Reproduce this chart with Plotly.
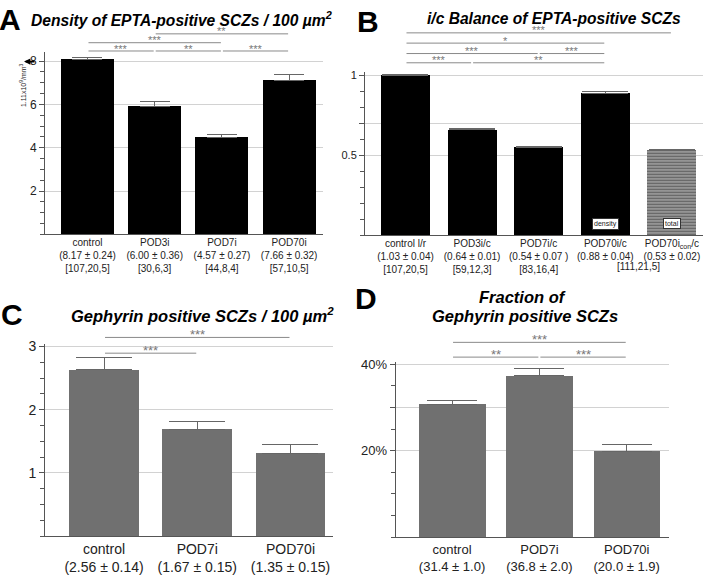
import plotly.graph_objects as go

W, H = 706, 575
FONT = "Liberation Sans, Arial, sans-serif"

# ---------------- data ----------------
A_cats = ["control", "POD3i", "POD7i", "POD70i"]
A_stats = ["(8.17 ± 0.24)", "(6.00 ± 0.36)", "(4.57 ± 0.27)", "(7.66 ± 0.32)"]
A_n = ["[107,20,5]", "[30,6,3]", "[44,8,4]", "[57,10,5]"]
A_vals = [8.08, 5.92, 4.49, 7.10]
A_err = [0.09, 0.22, 0.13, 0.30]
A_sig = [(0, 1, "***"), (1, 2, "**"), (2, 3, "***"), (0, 2, "***"), (1, 3, "**")]

B_cats = ["control l/r", "POD3i/c", "POD7i/c", "POD70i/c", "POD70i<sub>con</sub>/c"]
B_stats = ["(1.03 ± 0.04)", "(0.64 ± 0.01)", "(0.54 ± 0.07 )", "(0.88 ± 0.04)", "(0.53 ± 0.02)"]
B_n = ["[107,20,5]", "[59,12,3]", "[83,16,4]", "", ""]
B_n_shared = "[111,21,5]"
B_vals = [1.0, 0.659, 0.548, 0.891, 0.529]
B_err = [0.006, 0.008, 0.010, 0.008, 0.006]
B_inbar = ["", "", "", "density", "total"]
B_sig = [(0, 1, "***"), (1, 3, "**"), (0, 2, "***"), (2, 3, "***"), (0, 3, "*"), (0, 4, "***")]

C_cats = ["control", "POD7i", "POD70i"]
C_stats = ["(2.56 ± 0.14)", "(1.67 ± 0.15)", "(1.35 ± 0.15)"]
C_vals = [2.63, 1.69, 1.31]
C_err = [0.19, 0.12, 0.14]
C_sig = [(0, 1, "***"), (0, 2, "***")]

D_cats = ["control", "POD7i", "POD70i"]
D_stats = ["(31.4 ± 1.0)", "(36.8 ± 2.0)", "(20.0 ± 1.9)"]
D_vals = [30.7, 37.3, 19.8]
D_err = [0.8, 1.6, 1.7]
D_sig = [(0, 1, "**"), (1, 2, "***"), (0, 2, "***")]

# ---------------- layout geometry (pixels) ----------------
P = {
    "A": dict(ax="", xpx=(45, 323), xr=(-0.632, 3.504), ypx=(232, 47.2), yr=(0, 8.4)),
    "B": dict(ax="2", xpx=(365, 703), xr=(-0.608, 4.467), ypx=(232.7, 67.5), yr=(0, 1.02)),
    "C": dict(ax="3", xpx=(45, 333), xr=(-0.633, 2.456), ypx=(538.7, 343.3), yr=(0, 3.04)),
    "D": dict(ax="4", xpx=(395.7, 669), xr=(-0.645, 2.484), ypx=(539.5, 361.7), yr=(0, 40.5)),
}


def x2px(p, x):
    g = P[p]
    return g["xpx"][0] + (x - g["xr"][0]) / (g["xr"][1] - g["xr"][0]) * (g["xpx"][1] - g["xpx"][0])


def fx(px):
    return px / W


def fy(py):
    return 1 - py / H


fig = go.Figure()

AX = "#555555"
GRID = "#d2d2d2"
ERRC = "#666666"


def add_bars(p, vals, errs, colors, width, capw, pattern=None):
    g = P[p]
    marker = dict(color=colors, line=dict(width=0))
    if pattern is not None:
        marker["pattern"] = pattern
    fig.add_trace(go.Bar(
        x=list(range(len(vals))), y=vals, width=width,
        marker=marker,
        error_y=dict(type="data", array=errs, arrayminus=[0] * len(errs), symmetric=False,
                     color=ERRC, thickness=1, width=capw),
        xaxis="x" + g["ax"], yaxis="y" + g["ax"], showlegend=False, hoverinfo="skip",
    ))


add_bars("A", A_vals, A_err, "#000000", 0.79, 15)
add_bars("B", B_vals, B_err, ["#000000"] * 4 + ["#6a6a6a"], 0.735, 23,
         pattern=dict(shape=[""] * 4 + ["-"], fgcolor="#9c9c9c",
                      size=3, solidity=0.35, fillmode="overlay"))
add_bars("C", C_vals, C_err, "#707070", 0.75, 28)
add_bars("D", D_vals, D_err, "#707070", 0.762, 25)


def axes(p, ticktext, yt, ytt, minor_dt, xfs, yfs, standoff=0):
    g = P[p]
    xd = [fx(g["xpx"][0]), fx(g["xpx"][1])]
    yd = [fy(g["ypx"][0]), fy(g["ypx"][1])]
    xa = dict(domain=xd, range=list(g["xr"]), anchor="y" + g["ax"], showline=True, linecolor=AX,
              linewidth=1, ticks="", tickvals=list(range(len(ticktext))), ticktext=ticktext,
              tickfont=dict(family=FONT, size=xfs, color="#222"), showgrid=False, zeroline=False,
              fixedrange=True, ticklabelstandoff=standoff)
    ya = dict(domain=yd, range=list(g["yr"]), anchor="x" + g["ax"], showline=True, linecolor=AX,
              linewidth=1, ticks="outside", ticklen=5, tickcolor=AX, tickvals=yt, ticktext=ytt,
              tickfont=dict(family=FONT, size=yfs, color="#222"), showgrid=True, gridcolor=GRID,
              gridwidth=1, zeroline=False, fixedrange=True,
              minor=dict(ticks="outside", ticklen=4, tickcolor=AX, dtick=minor_dt, tick0=0, showgrid=False))
    fig.update_layout(**{"xaxis" + g["ax"]: xa, "yaxis" + g["ax"]: ya})


axes("A", [f"{a}<br>{b}<br>{c}" for a, b, c in zip(A_cats, A_stats, A_n)],
     [2, 4, 6, 8], ["2", "4", "6", "8"], 0.5, 10, 12, standoff=-1)
axes("B", [f"{a}<br>{b}<br>{c}" if c else f"{a}<br>{b}" for a, b, c in zip(B_cats, B_stats, B_n)],
     [0.5, 0.7, 1], ["0.5", "", "1"], 0.1, 10, 11, standoff=-1)
axes("C", [f"{a}<br>{b}" for a, b in zip(C_cats, C_stats)],
     [1, 2, 3], ["1", "2", "3"], 0.25, 14, 14)
axes("D", [f"{a}<br>{b}" for a, b in zip(D_cats, D_stats)],
     [20, 30, 40], ["20%", "", "40%"], 5, 13, 13)

shapes = []
annots = []


def brackets(p, sig, rows, fs):
    for (i, j, s), ry in zip(sig, rows):
        x0 = x2px(p, i) + 1
        x1 = x2px(p, j) - 1
        shapes.append(dict(type="line", xref="paper", yref="paper", x0=fx(x0), x1=fx(x1),
                           y0=fy(ry), y1=fy(ry), line=dict(color="#8a8a8a", width=1)))
        annots.append(dict(xref="paper", yref="paper", x=fx((x0 + x1) / 2), y=fy(ry - 2.5),
                           text=s, showarrow=False, xanchor="center", yanchor="middle",
                           font=dict(family=FONT, size=fs, color="#777")))


brackets("A", A_sig, [45.7, 45.7, 45.7, 37.3, 28.3], 11)
brackets("B", B_sig, [57.7, 57.7, 48.3, 48.3, 37.7, 27.3], 11)
brackets("C", C_sig, [352.7, 336.7], 13)
brackets("D", D_sig, [356.7, 356.7, 341.7], 13)


def txt(x, y, s, size, bold=True, italic=True, **kw):
    t = s
    if italic:
        t = "<i>" + t + "</i>"
    if bold:
        t = "<b>" + t + "</b>"
    d = dict(xref="paper", yref="paper", x=fx(x), y=fy(y), text=t, showarrow=False,
             xanchor="center", yanchor="middle", font=dict(family=FONT, size=size, color="#000"))
    d.update(kw)
    annots.append(d)


# titles
txt(181.5, 13, "Density of EPTA-positive SCZs / 100 µm<sup>2</sup>", 15.6)
txt(554, 13, "i/c Balance of EPTA-positive SCZs", 15.6)
txt(202, 314, "Gephyrin positive SCZs / 100 µm<sup>2</sup>", 16.5)
txt(522, 296, "Fraction of", 16.5)
txt(525, 315, "Gephyrin positive SCZs", 16.5)

# panel letters
txt(10, 14, "A", 30, italic=False)
txt(368, 16, "B", 30, italic=False)
txt(12, 313, "C", 30, italic=False)
txt(366, 297, "D", 30, italic=False)

# shared n label in B
annots.append(dict(xref="paper", yref="paper", x=fx((x2px("B", 3) + x2px("B", 4)) / 2), y=fy(265),
                   text=B_n_shared, showarrow=False, xanchor="center", yanchor="middle",
                   font=dict(family=FONT, size=10, color="#222")))

# in-bar labels in B
for i, s in enumerate(B_inbar):
    if s:
        annots.append(dict(xref="x2", yref="y2", x=i, y=0.072, text=s, showarrow=False,
                           bgcolor="white", bordercolor="#333", borderwidth=1, borderpad=1,
                           font=dict(family=FONT, size=7, color="#222")))

# unit note + arrow in A
annots.append(dict(xref="paper", yref="paper", x=fx(17), y=fy(56),
                   text="1.11x10<sup>9</sup>/mm<sup>3</sup>", textangle=-90, showarrow=False,
                   font=dict(family=FONT, size=7, color="#222")))
annots.append(dict(xref="paper", yref="paper", x=fx(24), y=fy(56.5), ax=12, ay=0, text="",
                   showarrow=True, arrowhead=2, arrowsize=0.8, arrowwidth=1.6, arrowcolor="#000"))

fig.update_layout(width=W, height=H, margin=dict(l=0, r=0, t=0, b=0),
                  paper_bgcolor="white", plot_bgcolor="white", shapes=shapes, annotations=annots,
                  bargap=0, font=dict(family=FONT))

fig.write_html("out.html")
